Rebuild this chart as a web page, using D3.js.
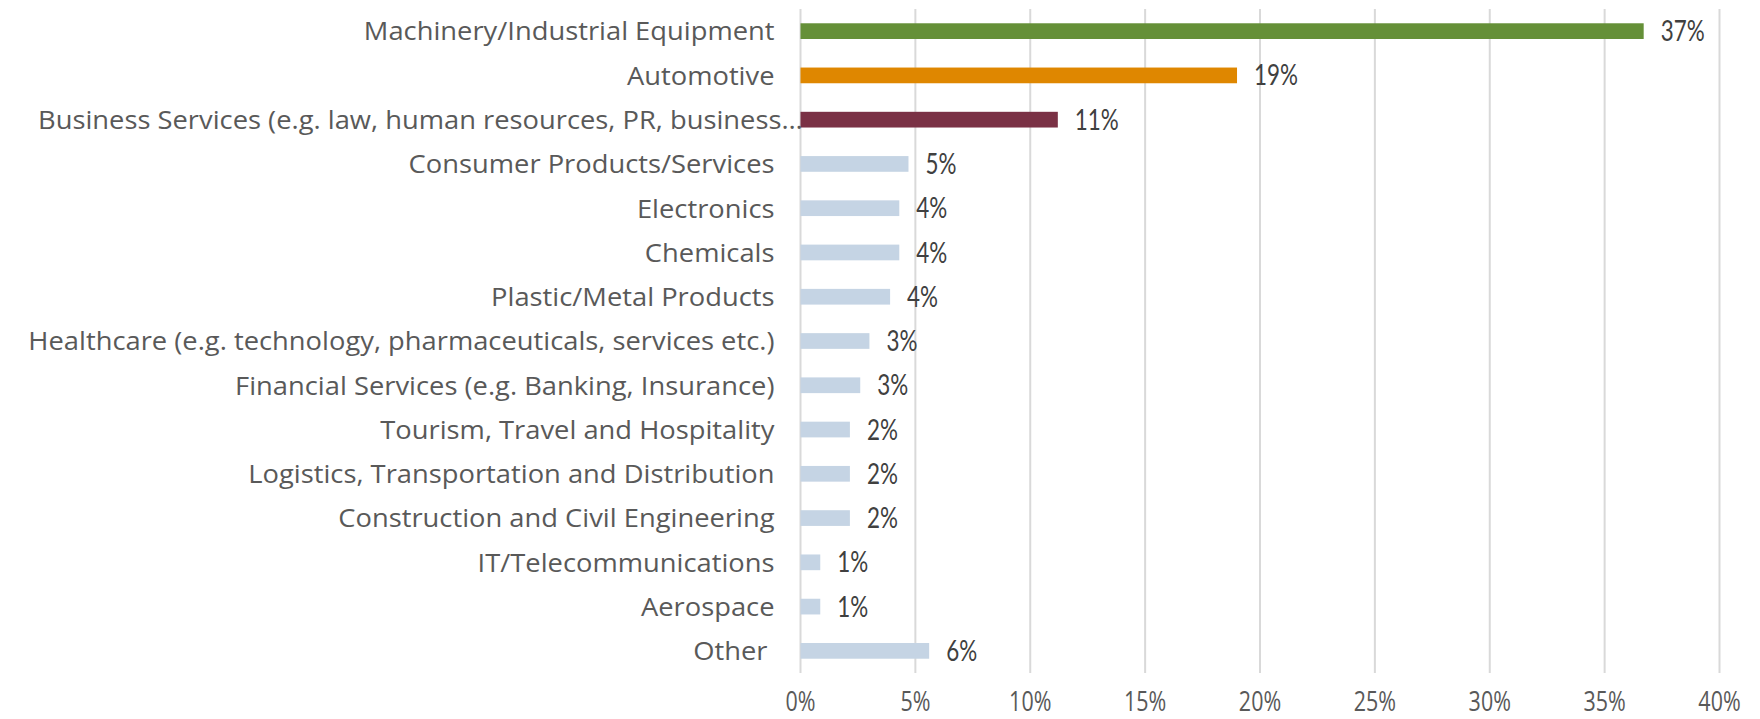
<!DOCTYPE html>
<html>
<head>
<meta charset="utf-8">
<script src="https://cdn.jsdelivr.net/npm/d3@7"></script>
<style>
	body { margin: 0; background: #fff; }
	.cat-label { font-family: "Open Sans", sans-serif; font-size: 26px; fill: #595959; white-space: pre; }
	.tick-label { font-family: "Open Sans", sans-serif; font-size: 27px; fill: #595959; }
	.value-label { font-family: Lato, sans-serif; font-size: 28px; fill: #404040; }
	.grid line { stroke: #d9d9d9; stroke-width: 2px; }
</style>
</head>
<body>
<div id="chart"></div>
<script>

// industries, top to bottom
const categories = [
	"Machinery/Industrial Equipment",
	"Automotive",
	"Business Services (e.g. law, human resources, PR, business\u2026",
	"Consumer Products/Services",
	"Electronics",
	"Chemicals",
	"Plastic/Metal Products",
	"Healthcare (e.g. technology, pharmaceuticals, services etc.)",
	"Financial Services (e.g. Banking, Insurance)",
	"Tourism, Travel and Hospitality",
	"Logistics, Transportation and Distribution",
	"Construction and Civil Engineering",
	"IT/Telecommunications",
	"Aerospace",
	"Other "
];

// share of respondents, in percent
const values = [36.7, 19.0, 11.2, 4.7, 4.3, 4.3, 3.9, 3.0, 2.6, 2.15, 2.15, 2.15, 0.86, 0.86, 5.6];

// x axis ticks, in percent
const xTicks = [0, 5, 10, 15, 20, 25, 30, 35, 40];

// the three highlighted industries, the rest stay light blue
const highlighted = ["Machinery/Industrial Equipment", "Automotive", "Business Services (e.g. law, human resources, PR, business\u2026"];


class BarVis {

	constructor(_parentElement) {
		this.parentElement = _parentElement;
		this.data = categories.map((c, i) => ({category: c, value: values[i]}));
		this.colors = ['#659038', '#df8700', '#7a3145'];
		this.otherColor = '#c5d4e4';
		this.initVis();
	}

	initVis() {
		let vis = this;

		vis.width = 1760;
		vis.height = 719;
		vis.margin = {top: 9, left: 800.5, right: 40.5, bottom: 46};

		vis.svg = d3.select("#" + vis.parentElement).append("svg")
			.attr("width", vis.width)
			.attr("height", vis.height);

		vis.x = d3.scaleLinear()
			.domain([0, 40])
			.range([vis.margin.left, vis.width - vis.margin.right]);

		vis.y = d3.scaleBand()
			.domain(categories)
			.range([vis.margin.top, vis.height - vis.margin.bottom])
			.paddingInner(0.645)
			.paddingOuter(0.3225);

		vis.color = d3.scaleOrdinal()
			.domain(highlighted)
			.range(vis.colors)
			.unknown(vis.otherColor);

		// the labels in the picture are tall and narrow, so squeeze them sideways
		vis.catScale = vis.fitScale("cat-label", "Machinery/Industrial Equipment", 411);
		vis.tickScale = vis.fitScale("tick-label", "0%", 30);
		vis.valueScale = vis.fitScale("value-label", "37%", 44);

		vis.updateVis();
	}

	fitScale(cls, sample, target) {
		let t = this.svg.append("text").attr("class", cls).text(sample);
		let w = t.node().getComputedTextLength();
		t.remove();
		return target / w;
	}

	updateVis() {
		let vis = this;
		let pct = d3.format(".0%");

		// gridlines
		vis.svg.append("g")
			.attr("class", "grid")
			.selectAll("line")
			.data(xTicks)
			.enter().append("line")
			.attr("x1", d => vis.x(d))
			.attr("x2", d => vis.x(d))
			.attr("y1", vis.y.range()[0])
			.attr("y2", vis.y.range()[1]);

		// x tick labels
		vis.svg.append("g")
			.selectAll("text")
			.data(xTicks)
			.enter().append("text")
			.attr("class", "tick-label")
			.attr("text-anchor", "middle")
			.attr("transform", d => `translate(${vis.x(d)}, ${vis.height - 8}) scale(${vis.tickScale}, 1)`)
			.text(d => d + "%");

		// bars
		vis.svg.append("g")
			.selectAll("rect")
			.data(vis.data)
			.enter().append("rect")
			.attr("x", vis.x(0))
			.attr("y", d => vis.y(d.category))
			.attr("width", d => vis.x(d.value) - vis.x(0))
			.attr("height", vis.y.bandwidth())
			.attr("fill", d => vis.color(d.category));

		// value labels
		vis.svg.append("g")
			.selectAll("text")
			.data(vis.data)
			.enter().append("text")
			.attr("class", "value-label")
			.attr("dy", "0.36em")
			.attr("transform", d => `translate(${vis.x(d.value) + 17}, ${vis.y(d.category) + vis.y.bandwidth() / 2}) scale(${vis.valueScale}, 1)`)
			.text(d => pct(d.value / 100));

		// category labels; a cut-off label starts at the left edge instead
		vis.svg.append("g")
			.selectAll("text")
			.data(vis.data)
			.enter().append("text")
			.attr("class", "cat-label")
			.attr("dy", "0.36em")
			.attr("text-anchor", d => d.category.endsWith("\u2026") ? "start" : "end")
			.attr("transform", d => {
				let xPos = d.category.endsWith("\u2026") ? 38 : vis.x(0) - 26;
				return `translate(${xPos}, ${vis.y(d.category) + vis.y.bandwidth() / 2}) scale(${vis.catScale}, 1)`;
			})
			.text(d => d.category);
	}
}

new BarVis("chart");

</script>
</body>
</html>
